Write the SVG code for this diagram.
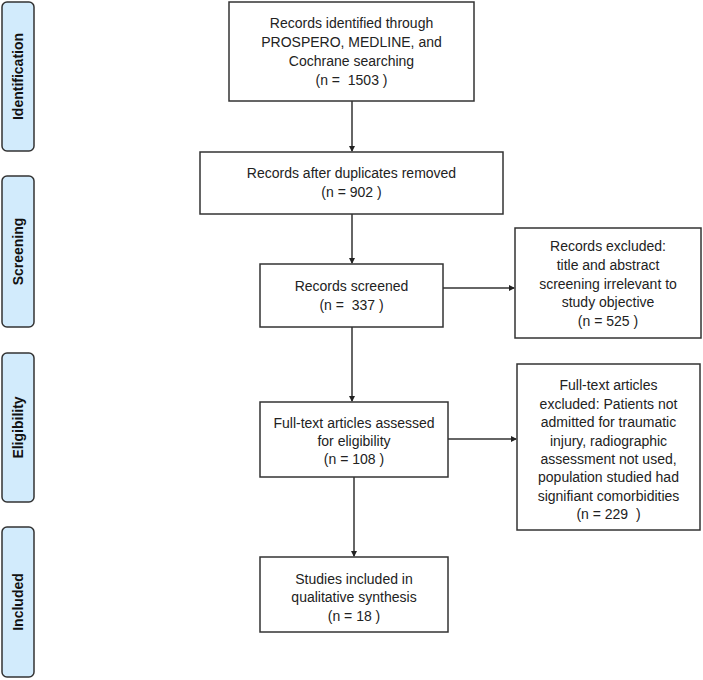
<svg xmlns="http://www.w3.org/2000/svg" width="703" height="680" viewBox="0 0 703 680">
<style>
.bar{fill:#d2ebfc;stroke:#333;stroke-width:1.5}
.box{fill:#fff;stroke:#333;stroke-width:1.5}
.lbl{font-family:"Liberation Sans",Arial,sans-serif;font-size:14px;font-weight:bold;fill:#111;text-anchor:middle}
.t{font-family:"Liberation Sans",Arial,sans-serif;font-size:14px;fill:#222;text-anchor:middle}
.c{stroke:#333;stroke-width:1.5;fill:none;marker-end:url(#ah)}
</style>
<defs>
<marker id="ah" markerWidth="6" markerHeight="6" refX="5" refY="3" orient="auto" markerUnits="userSpaceOnUse">
<path d="M0,0 L6,3 L0,6 z" fill="#222"/>
</marker>
</defs>
<rect width="703" height="680" fill="#fff"/>
<g id="stage-identification"><rect class="bar" x="2" y="2" width="32" height="149" rx="5"/><text class="lbl" transform="translate(23,76.5) rotate(-90)">Identification</text></g>
<g id="stage-screening"><rect class="bar" x="2" y="176" width="32" height="151" rx="5"/><text class="lbl" transform="translate(23,251.5) rotate(-90)">Screening</text></g>
<g id="stage-eligibility"><rect class="bar" x="2" y="353" width="32" height="149" rx="5"/><text class="lbl" transform="translate(23,427.5) rotate(-90)">Eligibility</text></g>
<g id="stage-included"><rect class="bar" x="2" y="527" width="32" height="150" rx="5"/><text class="lbl" transform="translate(23,602) rotate(-90)">Included</text></g>
<g id="connectors">
<line class="c" x1="352" y1="101" x2="352" y2="151"/>
<line class="c" x1="352" y1="214" x2="352" y2="263"/>
<line class="c" x1="443" y1="288" x2="514" y2="288"/>
<line class="c" x1="352" y1="327" x2="352" y2="401"/>
<line class="c" x1="448" y1="439" x2="516" y2="439"/>
<line class="c" x1="354" y1="477" x2="354" y2="556"/>
</g>
<g id="identified"><rect class="box" x="229" y="2" width="245" height="99"/>
<text class="t" x="351.5" y="28">Records identified through</text>
<text class="t" x="351.5" y="47">PROSPERO, MEDLINE, and</text>
<text class="t" x="351.5" y="66">Cochrane searching</text>
<text class="t" x="351.5" y="85" xml:space="preserve">(n =  1503 )</text></g>
<g id="deduplicated"><rect class="box" x="200" y="152" width="303" height="62"/>
<text class="t" x="351.5" y="178">Records after duplicates removed</text>
<text class="t" x="351.5" y="197">(n = 902 )</text></g>
<g id="screened"><rect class="box" x="260" y="264" width="183" height="63"/>
<text class="t" x="351.5" y="291">Records screened</text>
<text class="t" x="351.5" y="310" xml:space="preserve">(n =  337 )</text></g>
<g id="excluded-screening"><rect class="box" x="515" y="228" width="186" height="110"/>
<text class="t" x="608" y="251">Records excluded:</text>
<text class="t" x="608" y="270">title and abstract</text>
<text class="t" x="608" y="289">screening irrelevant to</text>
<text class="t" x="608" y="307">study objective</text>
<text class="t" x="608" y="326">(n = 525 )</text></g>
<g id="fulltext"><rect class="box" x="260" y="402" width="188" height="75"/>
<text class="t" x="354" y="428">Full-text articles assessed</text>
<text class="t" x="354" y="446">for eligibility</text>
<text class="t" x="354" y="464">(n = 108 )</text></g>
<g id="excluded-fulltext"><rect class="box" x="517" y="364" width="183" height="166"/>
<text class="t" x="608.5" y="390">Full-text articles</text>
<text class="t" x="608.5" y="408.5">excluded: Patients not</text>
<text class="t" x="608.5" y="427">admitted for traumatic</text>
<text class="t" x="608.5" y="445.5">injury, radiographic</text>
<text class="t" x="608.5" y="464">assessment not used,</text>
<text class="t" x="608.5" y="482">population studied had</text>
<text class="t" x="608.5" y="500.5">signifiant comorbidities</text>
<text class="t" x="608.5" y="519" xml:space="preserve">(n = 229  )</text></g>
<g id="included"><rect class="box" x="260" y="557" width="188" height="75"/>
<text class="t" x="354" y="584">Studies included in</text>
<text class="t" x="354" y="602">qualitative synthesis</text>
<text class="t" x="354" y="621">(n = 18 )</text></g>
</svg>
